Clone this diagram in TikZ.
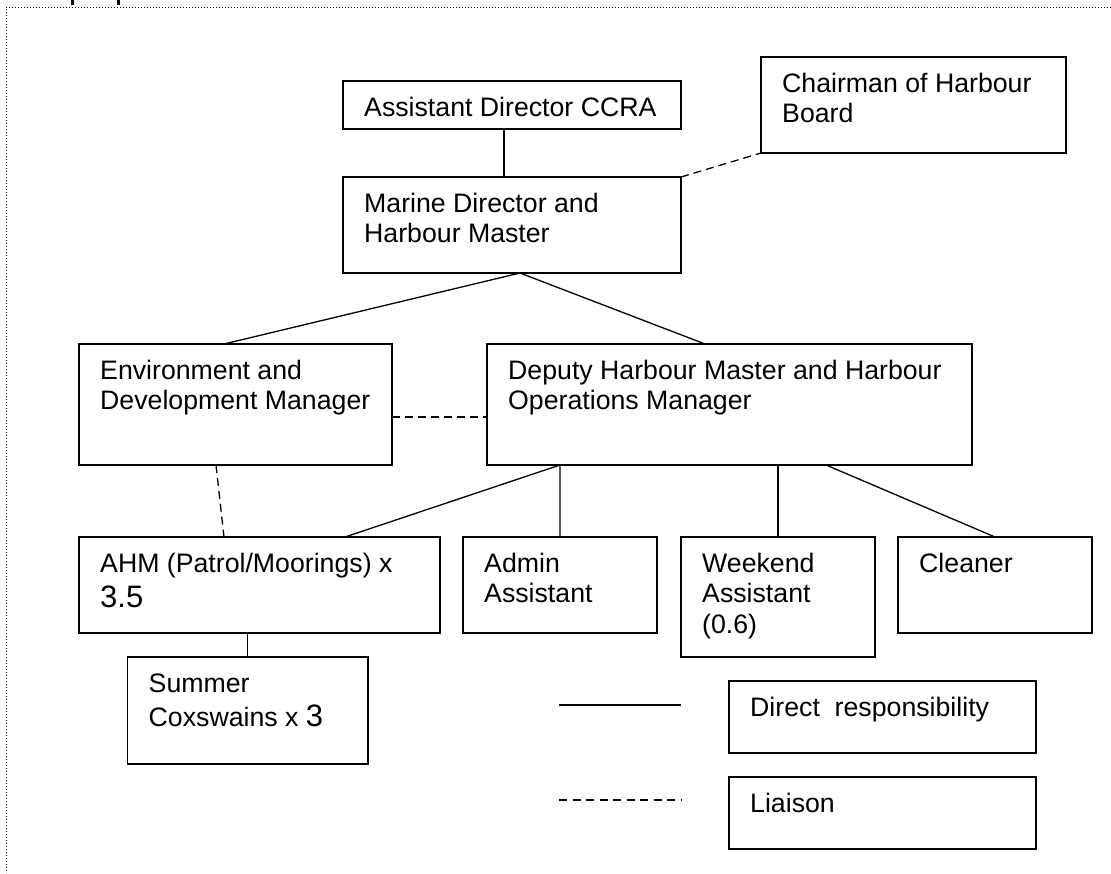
\documentclass[tikz,border=0pt]{standalone}
\usepackage{fontspec}
\setmainfont{Liberation Sans}
\tikzset{
  boxline/.style={draw=black, line width=1.6pt, inner sep=0pt, outer sep=0pt, anchor=north west},
  txt/.style={anchor=base west, inner sep=0pt, font=\fontsize{26.7}{30.5}\selectfont},
  direct/.style={draw=black, line width=1.3pt},
  liaison/.style={draw=black, line width=1.3pt, dash pattern=on 8pt off 5pt},
  frame/.style={draw=black, line width=0.9pt, dash pattern=on 1pt off 2pt},
}
% #1 name, #2 x1, #3 y1, #4 x2, #5 y2, #6 text
\newcommand\orgbox[6]{%
  \node[boxline, minimum width={#4pt-#2pt}, minimum height={#5pt-#3pt}] (#1) at (#2,#3) {};
  \node[txt] (#1-t) at ([xshift=21pt,yshift=-35pt]#1.north west)
    {\begin{tabular}[t]{@{}l@{}}#6\end{tabular}};
}
\newcommand\bigdigits[1]{{\fontsize{31}{36}\selectfont #1}}
\begin{document}
\begin{tikzpicture}[x=1pt,y=-1pt]
\useasboundingbox (0,0) rectangle (1111,873);
% page frame fragments
\draw[frame] (1111,7) -- (6,7) -- (6,873);
\fill (70.5,0) rectangle (73.5,5);
\fill (116.5,0) rectangle (119.5,5);

\orgbox{AD}{343}{81}{681}{129}{Assistant Director CCRA}
\orgbox{MD}{343}{177}{681}{273}{Marine Director and\\Harbour Master}
\orgbox{CH}{761}{57}{1066}{153}{Chairman of Harbour\\Board}
\orgbox{ED}{79}{344}{392}{465}{Environment and\\Development Manager}
\orgbox{DH}{487}{344}{972}{465}{Deputy Harbour Master and Harbour\\Operations Manager}
\orgbox{AHM}{79}{537}{440}{633}{AHM (Patrol/Moorings) x\\[4.5pt]\bigdigits{3.5}}
\orgbox{AA}{463}{537}{657}{633}{Admin\\Assistant}
\orgbox{WA}{681}{537}{875}{657}{Weekend\\Assistant\\(0.6)}
\orgbox{CL}{898}{537}{1092}{633}{Cleaner}
\orgbox{SC}{127.5}{657}{368}{764}{Summer\\[3.5pt]Coxswains x \bigdigits{3}}
\orgbox{DR}{729}{681}{1036}{753}{Direct\ \ responsibility}
\orgbox{LI}{729}{777}{1036}{849}{Liaison}

% direct lines
\draw[direct] ([xshift=-8pt]AD.south) -- ([xshift=-8pt]AD.south |- MD.north);
\draw[direct] ([xshift=-11.5pt]ED.north) -- ([xshift=8pt]MD.south) -- ([xshift=-24.5pt]DH.north);
\draw[direct] ([xshift=85.5pt]AHM.north) -- (AA.north |- DH.south) -- (AA.north);
\draw[direct] (WA.north |- DH.south) -- (WA.north);
\draw[direct] ([xshift=96.5pt]DH.south) -- (CL.north);
\draw[direct] (SC.north |- AHM.south) -- (SC.north);

% liaison lines
\draw[liaison] (MD.north east) -- (CH.south west);
\draw[liaison] ([yshift=-12.5pt]ED.east) -- ([yshift=-12.5pt]DH.west);
\draw[liaison] ([xshift=-19.5pt]ED.south) -- ([xshift=-35.5pt]AHM.north);

% legend
\coordinate (ls1) at (559,705);
\coordinate (ls2) at (681,705);
\coordinate (ld1) at (559,800);
\coordinate (ld2) at (681,800);
\draw[direct] (ls1) -- (ls2);
\draw[liaison, dash pattern=on 8pt off 5.5pt] (ld1) -- (ld2);
\end{tikzpicture}
\end{document}
